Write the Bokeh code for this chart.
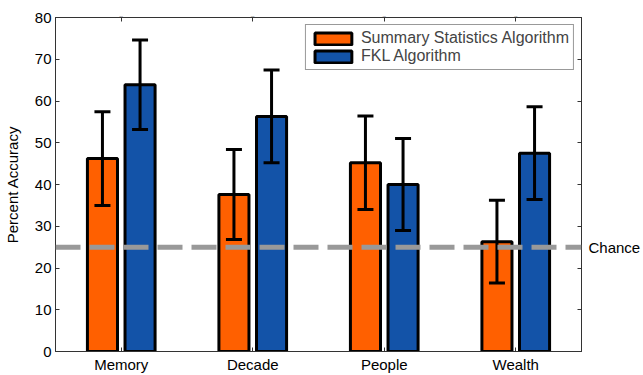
from bokeh.plotting import figure
from bokeh.models import (ColumnDataSource, FactorRange, Range1d, Whisker, Span,
                          LinearAxis, CategoricalAxis, FixedTicker, Legend, LegendItem, TeeHead)
from bokeh.transform import dodge
from bokeh.embed import file_html
from bokeh.resources import INLINE

categories = ["Memory", "Decade", "People", "Wealth"]
summary_vals = [46.2, 37.6, 45.2, 26.3]
summary_err = [11.2, 10.8, 11.2, 9.9]
fkl_vals = [63.9, 56.3, 40.0, 47.5]
fkl_err = [10.7, 11.1, 11.0, 11.1]
chance = 25
chance_label = "Chance"
y_ticks = [0, 10, 20, 30, 40, 50, 60, 70, 80]
series_names = ["Summary Statistics Algorithm", "FKL Algorithm"]

ORANGE = "#FF6000"
BLUE = "#1353A8"
AXC = "#333333"
FONT = "Liberation Sans"

src = ColumnDataSource(dict(
    cat=categories,
    s=summary_vals,
    s_up=[v + e for v, e in zip(summary_vals, summary_err)],
    s_lo=[v - e for v, e in zip(summary_vals, summary_err)],
    f=fkl_vals,
    f_up=[v + e for v, e in zip(fkl_vals, fkl_err)],
    f_lo=[v - e for v, e in zip(fkl_vals, fkl_err)],
))

p = figure(width=643, height=375, output_backend="svg", toolbar_location=None,
           x_range=FactorRange(*categories, range_padding=0),
           y_range=Range1d(0, 80),
           min_border_left=54, min_border_right=61, min_border_top=17, min_border_bottom=23)
p.grid.visible = False
p.outline_line_color = AXC
p.outline_line_width = 1
p.background_fill_color = "white"
p.border_fill_color = "white"

off = 0.143
w = 0.2286
r1 = p.vbar(x=dodge("cat", -off, range=p.x_range), top="s", width=w, source=src,
            fill_color=ORANGE, line_color="black", line_width=3)
r2 = p.vbar(x=dodge("cat", off, range=p.x_range), top="f", width=w, source=src,
            fill_color=BLUE, line_color="black", line_width=3)

for base, up, lo in [(-off, "s_up", "s_lo"), (off, "f_up", "f_lo")]:
    wh = Whisker(base=dodge("cat", base, range=p.x_range), upper=up, lower=lo, source=src,
                 line_color="black", line_width=3, level="annotation",
                 upper_head=TeeHead(size=16, line_width=3, line_color="black"),
                 lower_head=TeeHead(size=16, line_width=3, line_color="black"))
    p.add_layout(wh)

span = Span(location=chance, dimension="width", line_color="#999999", line_width=5,
            line_dash="25 9", level="overlay")
p.add_layout(span)

# axes
xa = p.xaxis[0]
xa.major_tick_in = 4
xa.major_tick_out = 0
xa.major_label_standoff = 4
xa.major_label_text_font = FONT
xa.major_label_text_font_size = "15px"
xa.major_label_text_color = "black"
xa.axis_line_color = AXC
xa.major_tick_line_color = AXC

ya = p.yaxis[0]
ya.ticker = FixedTicker(ticks=y_ticks)
ya.minor_tick_line_color = None
ya.major_tick_in = 4
ya.major_tick_out = 0
ya.major_label_standoff = 4
ya.major_label_text_font = FONT
ya.major_label_text_font_size = "15px"
ya.major_label_text_color = "black"
ya.axis_label = "Percent Accuracy"
ya.axis_label_text_font = FONT
ya.axis_label_text_font_size = "15px"
ya.axis_label_text_font_style = "normal"
ya.axis_label_text_color = "black"
ya.axis_label_standoff = 11
ya.axis_line_color = AXC
ya.major_tick_line_color = AXC

right_ticks = sorted(y_ticks + [chance])
right_overrides = {t: "" for t in y_ticks}
right_overrides[chance] = chance_label
ra = LinearAxis(ticker=FixedTicker(ticks=right_ticks), major_tick_in=4, major_tick_out=0,
                minor_tick_line_color=None, major_label_overrides=right_overrides,
                major_label_text_font=FONT, major_label_text_font_size="15px",
                major_label_text_color="black",
                major_label_standoff=7, axis_line_color=AXC,
                major_tick_line_color=AXC)
p.add_layout(ra, "right")

ta = CategoricalAxis(major_tick_in=4, major_tick_out=0,
                     major_label_overrides={c: "" for c in categories},
                     major_label_text_font_size="1px",
                     major_label_standoff=0, axis_line_color=AXC,
                     major_tick_line_color=AXC)
p.add_layout(ta, "above")

legend = Legend(items=[LegendItem(label=series_names[0], renderers=[r1]),
                       LegendItem(label=series_names[1], renderers=[r2])],
                location="top_right", margin=7, padding=4, spacing=0,
                glyph_width=46, glyph_height=15, label_standoff=5,
                label_text_font=FONT, label_text_font_size="16px",
                label_height=17,
                border_line_color=AXC, border_line_width=1,
                background_fill_color="white", background_fill_alpha=1)
p.add_layout(legend)

open("out.html", "w").write(file_html(p, INLINE))
